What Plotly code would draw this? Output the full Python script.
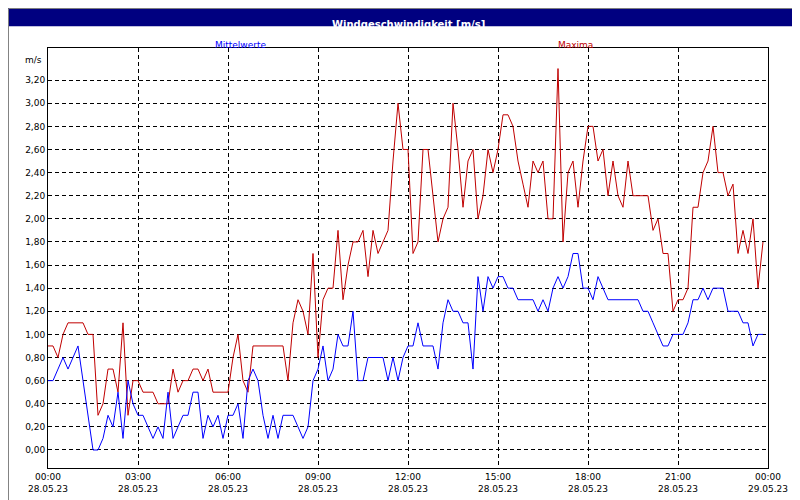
import plotly.graph_objects as go

maxima = [0.9,0.9,0.8,1.0,1.1,1.1, 1.1,1.1,1.0,1.0,0.3,0.4, 0.7,0.7,0.5,1.1,0.3,0.6,
          0.6,0.5,0.5,0.5,0.4,0.4, 0.4,0.7,0.5,0.6,0.6,0.7, 0.7,0.6,0.7,0.5,0.5,0.5,
          0.5,0.8,1.0,0.6,0.5,0.9, 0.9,0.9,0.9,0.9,0.9,0.9, 0.6,1.1,1.3,1.2,1.0,1.7,
          0.8,1.3,1.4,1.4,1.9,1.3, 1.6,1.8,1.8,1.9,1.5,1.9, 1.7,1.8,1.9,2.5,3.0,2.6,
          2.6,1.7,1.8,2.6,2.6,2.2, 1.8,2.0,2.1,3.0,2.6,2.1, 2.5,2.6,2.0,2.2,2.6,2.4,
          2.6,2.9,2.9,2.8,2.5,2.3, 2.1,2.5,2.4,2.5,2.0,2.0, 3.3,1.8,2.4,2.5,2.1,2.5,
          2.8,2.8,2.5,2.6,2.2,2.5, 2.2,2.1,2.5,2.2,2.2,2.2, 2.2,1.9,2.0,1.7,1.7,1.2,
          1.3,1.3,1.4,2.1,2.1,2.4, 2.5,2.8,2.4,2.4,2.2,2.3, 1.7,1.9,1.7,2.0,1.4,1.8]
mittel = [0.6,0.6,0.7,0.8,0.7,0.8, 0.9,0.6,0.3,0.0,0.0,0.1, 0.3,0.2,0.5,0.1,0.6,0.4,
          0.3,0.3,0.2,0.1,0.2,0.1, 0.5,0.1,0.2,0.3,0.3,0.5, 0.5,0.1,0.3,0.2,0.3,0.1,
          0.3,0.3,0.4,0.1,0.6,0.7, 0.6,0.3,0.1,0.3,0.1,0.3, 0.3,0.3,0.2,0.1,0.2,0.6,
          0.7,0.9,0.6,0.7,1.0,0.9, 0.9,1.2,0.6,0.6,0.8,0.8, 0.8,0.8,0.6,0.8,0.6,0.8,
          0.9,0.9,1.1,0.9,0.9,0.9, 0.7,1.1,1.3,1.2,1.2,1.1, 1.1,0.7,1.5,1.2,1.5,1.4,
          1.5,1.5,1.4,1.4,1.3,1.3, 1.3,1.3,1.2,1.3,1.2,1.4, 1.5,1.4,1.5,1.7,1.7,1.4,
          1.4,1.3,1.5,1.4,1.3,1.3, 1.3,1.3,1.3,1.3,1.3,1.2, 1.2,1.1,1.0,0.9,0.9,1.0,
          1.0,1.0,1.1,1.3,1.3,1.4, 1.3,1.4,1.4,1.4,1.2,1.2, 1.2,1.1,1.1,0.9,1.0,1.0]
minutes = [i*10 for i in range(len(maxima))]
x_tickvals = [0,180,360,540,720,900,1080,1260,1440]
x_ticktext = ["00:00<br>28.05.23","03:00<br>28.05.23","06:00<br>28.05.23","09:00<br>28.05.23",
              "12:00<br>28.05.23","15:00<br>28.05.23","18:00<br>28.05.23","21:00<br>28.05.23",
              "00:00<br>29.05.23"]
y_tickvals = [round(i*0.2,1) for i in range(17)]
y_ticktext = [f"{v:.2f}".replace(".", ",") for v in y_tickvals]

fig = go.Figure()
fig.add_trace(go.Scatter(x=minutes, y=maxima, mode="lines", line=dict(color="#c00000", width=1), name="Maxima"))
fig.add_trace(go.Scatter(x=minutes, y=mittel, mode="lines", line=dict(color="#0000ff", width=1), name="Mittelwerte"))

font = dict(family="DejaVu Sans", size=9, color="black")
axis_common = dict(showgrid=True, gridcolor="black", griddash="4px,3px", gridwidth=1, zeroline=False,
                   showline=True, linecolor="black", mirror=True, ticks="", tickfont=font, automargin=False)
fig.update_layout(
    width=800, height=500, margin=dict(l=40, r=40, t=40, b=40),
    paper_bgcolor="white", plot_bgcolor="white", showlegend=False, font=font,
    xaxis=dict(range=[0,1440], tickvals=x_tickvals, ticktext=x_ticktext, **axis_common),
    yaxis=dict(range=[-0.156,3.478], tickvals=y_tickvals, ticktext=y_ticktext, **axis_common),
    shapes=[dict(type="rect", xref="paper", yref="paper", x0=-0.0556, x1=1.0556, y0=1.052, y1=1.096,
                 fillcolor="#000080", line=dict(width=0), layer="above"),
            dict(type="rect", xref="paper", yref="paper", x0=-0.0549, x1=1.0549, y0=-0.094, y1=1.094,
                 fillcolor="rgba(0,0,0,0)", line=dict(color="#808080", width=1))],
    annotations=[
        dict(text="<b>Windgeschwindigkeit [m/s]</b>", xref="paper", yref="paper", x=0.5, y=1.074,
             showarrow=False, font=dict(family="DejaVu Sans", size=10, color="white")),
        dict(text="Mittelwerte", xref="paper", yref="paper", x=0.229, y=1.024, showarrow=False,
             font=dict(family="DejaVu Sans", size=9, color="#0000ff")),
        dict(text="Maxima", xref="paper", yref="paper", x=0.76, y=1.024, showarrow=False,
             font=dict(family="DejaVu Sans", size=9, color="#c00000")),
        dict(text="m/s", xref="paper", yref="paper", x=-0.005, y=0.988, xanchor="right",
             showarrow=False, font=font),
    ],
)
fig.write_html("out.html")
